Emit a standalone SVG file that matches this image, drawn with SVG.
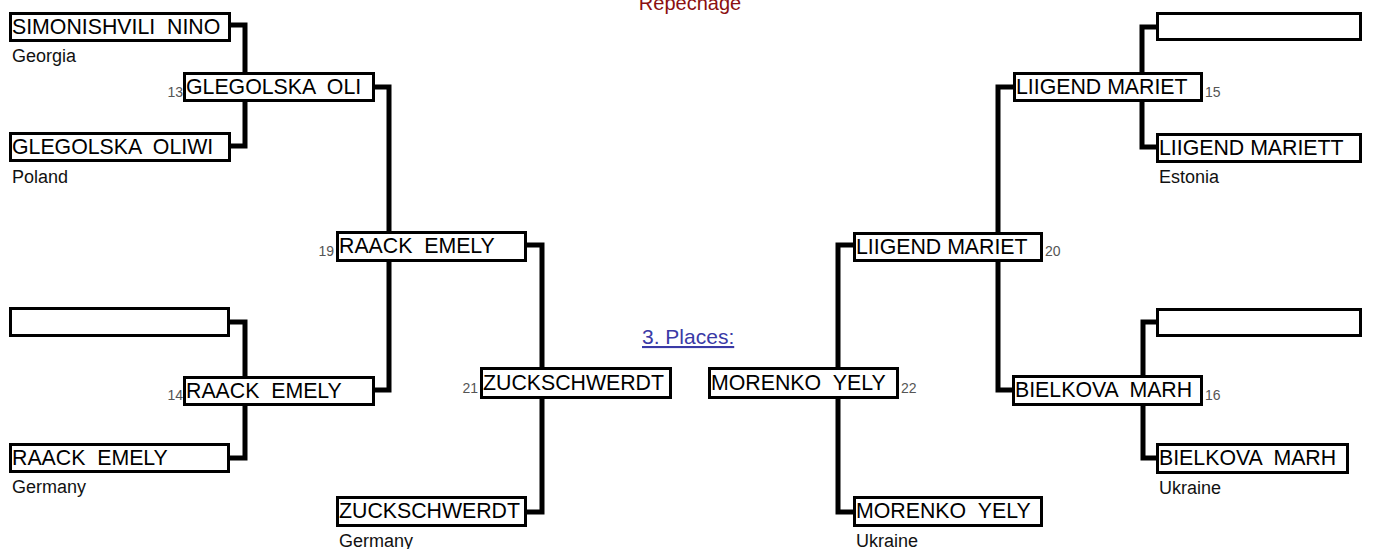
<svg xmlns="http://www.w3.org/2000/svg" width="1373" height="549" viewBox="0 0 1373 549">
<style>
.box{fill:#fff;stroke:#000;stroke-width:3}
.nm{font-family:"Liberation Sans",Arial,sans-serif;font-size:21.3px;fill:#000}
.ct{font-family:"Liberation Sans",Arial,sans-serif;font-size:18px;fill:#111}
.no{font-family:"Liberation Sans",Arial,sans-serif;font-size:14px;fill:#555}
.ne{text-anchor:end}
.cn{fill:none;stroke:#000;stroke-width:5;stroke-linejoin:miter;stroke-linecap:butt}
.title{font-family:"Liberation Sans",Arial,sans-serif;font-size:20px;fill:#8b1010;text-anchor:middle}
.link{font-family:"Liberation Sans",Arial,sans-serif;font-size:21px;fill:#3a3aa6;text-decoration:underline}
</style>
<rect width="1373" height="549" fill="#fff"/>
<text class="title" x="690" y="10">Repechage</text>
<text class="link" x="642" y="344">3. Places:</text>
<g id="connectors">
<path class="cn" d="M231,25 H245 V72"/>
<path class="cn" d="M231,146 H245 V102"/>
<path class="cn" d="M375,87 H389 V231"/>
<path class="cn" d="M375,390 H389 V262"/>
<path class="cn" d="M230,322 H245 V376"/>
<path class="cn" d="M230,458 H245 V406"/>
<path class="cn" d="M527,245 H542 V367"/>
<path class="cn" d="M527,512 H542 V399"/>
<path class="cn" d="M1156,27 H1142 V72"/>
<path class="cn" d="M1156,147 H1142 V102"/>
<path class="cn" d="M1013,87 H998 V232"/>
<path class="cn" d="M1012,390 H998 V262"/>
<path class="cn" d="M1156,322 H1143 V375"/>
<path class="cn" d="M1156,458 H1143 V406"/>
<path class="cn" d="M853,245 H838 V367"/>
<path class="cn" d="M853,512 H838 V399"/>
</g>
<g id="n-simonishvili"><rect class="box" x="10.5" y="13.5" width="219" height="27"/><text class="nm" x="12" y="33.5">SIMONISHVILI &#160;NINO</text><text class="ct" x="12" y="62">Georgia</text></g>
<g id="n-glegolska-oliwi"><rect class="box" x="10.5" y="133.5" width="219" height="27"/><text class="nm" x="12" y="153.5">GLEGOLSKA &#160;OLIWI</text><text class="ct" x="12" y="183">Poland</text></g>
<g id="n-empty-l1"><rect class="box" x="10.5" y="308.5" width="218" height="27"/></g>
<g id="n-raack-r1"><rect class="box" x="10.5" y="444.5" width="218" height="27"/><text class="nm" x="12" y="464.5">RAACK &#160;EMELY</text><text class="ct" x="12" y="493">Germany</text></g>
<g id="n-m13"><rect class="box" x="184.5" y="73.5" width="189" height="27"/><text class="nm" x="186" y="93.5">GLEGOLSKA &#160;OLI</text><text class="no ne" x="183" y="97">13</text></g>
<g id="n-m14"><rect class="box" x="184.5" y="377.5" width="189" height="27"/><text class="nm" x="186" y="397.5">RAACK &#160;EMELY</text><text class="no ne" x="183" y="400">14</text></g>
<g id="n-m19"><rect class="box" x="337.5" y="232.5" width="188" height="28"/><text class="nm" x="339" y="253">RAACK &#160;EMELY</text><text class="no ne" x="334" y="256">19</text></g>
<g id="n-zuck-bottom"><rect class="box" x="337.5" y="497.5" width="188" height="28"/><text class="nm" x="339" y="518">ZUCKSCHWERDT</text><text class="ct" x="339" y="547">Germany</text></g>
<g id="n-m21"><rect class="box" x="481.5" y="368.5" width="189" height="29"/><text class="nm" x="483" y="390">ZUCKSCHWERDT</text><text class="no ne" x="478" y="393">21</text></g>
<g id="n-m22"><rect class="box" x="709.5" y="368.5" width="188" height="29"/><text class="nm" x="711" y="390">MORENKO &#160;YELY</text><text class="no" x="901" y="393">22</text></g>
<g id="n-m20"><rect class="box" x="854.5" y="233.5" width="187" height="27"/><text class="nm" x="856" y="253.5">LIIGEND MARIET</text><text class="no" x="1045" y="256">20</text></g>
<g id="n-morenko-bottom"><rect class="box" x="854.5" y="497.5" width="187" height="28"/><text class="nm" x="856" y="518">MORENKO &#160;YELY</text><text class="ct" x="856" y="547">Ukraine</text></g>
<g id="n-m15"><rect class="box" x="1014.5" y="73.5" width="187" height="27"/><text class="nm" x="1016" y="93.5">LIIGEND MARIET</text><text class="no" x="1205" y="97">15</text></g>
<g id="n-m16"><rect class="box" x="1013.5" y="376.5" width="188" height="28"/><text class="nm" x="1015" y="397">BIELKOVA &#160;MARH</text><text class="no" x="1205" y="400">16</text></g>
<g id="n-empty-r1"><rect class="box" x="1157.5" y="13.5" width="203" height="26"/></g>
<g id="n-liigend-r1"><rect class="box" x="1157.5" y="134.5" width="203" height="27"/><text class="nm" x="1159" y="154.5">LIIGEND MARIETT</text><text class="ct" x="1159" y="183">Estonia</text></g>
<g id="n-empty-r2"><rect class="box" x="1157.5" y="309.5" width="203" height="26"/></g>
<g id="n-bielkova-r1"><rect class="box" x="1157.5" y="444.5" width="190" height="28"/><text class="nm" x="1159" y="464.5">BIELKOVA &#160;MARH</text><text class="ct" x="1159" y="494">Ukraine</text></g>
</svg>
